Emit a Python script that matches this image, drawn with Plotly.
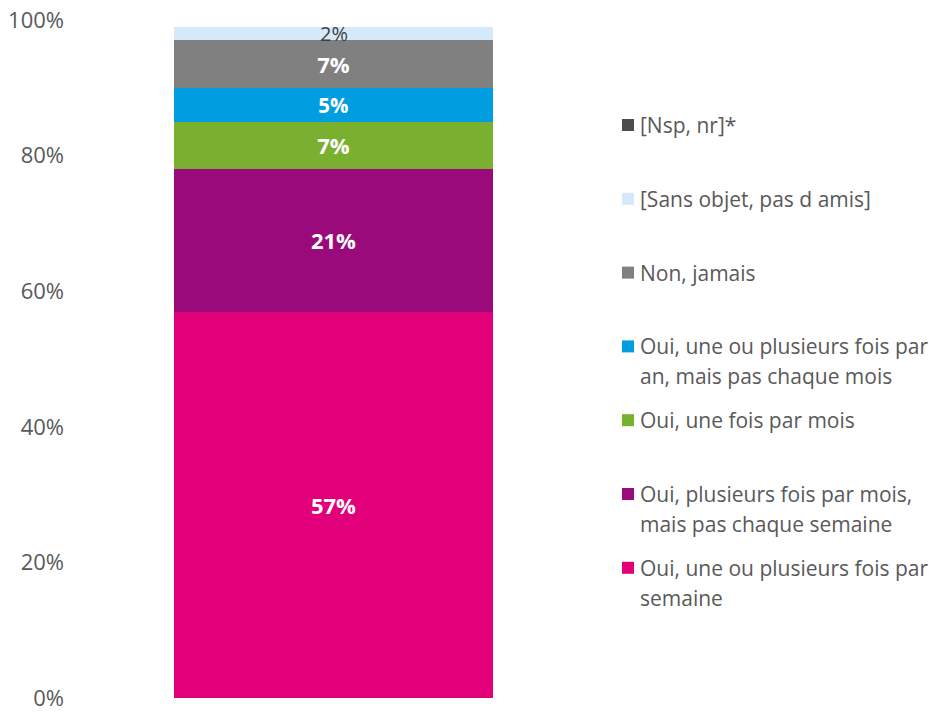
import plotly.graph_objects as go

# Survey answer categories, bottom of the stack first
categories = [
    "Oui, une ou plusieurs fois par<br>semaine",
    "Oui, plusieurs fois par mois,<br>mais pas chaque semaine",
    "Oui, une fois par mois",
    "Oui, une ou plusieurs fois par<br>an, mais pas chaque mois",
    "Non, jamais",
    "[Sans objet, pas d amis]",
    "[Nsp, nr]*",
]
shares = [57, 21, 7, 5, 7, 2, 0]  # percent of respondents
colors = ["#E2007A", "#9B0A7A", "#7AB030", "#009EE0", "#808080", "#D6E9FB", "#4D4D4D"]
y_ticks = [0, 20, 40, 60, 80, 100]
y_tick_labels = ["0%", "20%", "40%", "60%", "80%", "100%"]

FONT = "Open Sans"
TEXT_GRAY = "#595959"

W, H = 929, 713
M_L, M_R, M_T, M_B = 75, 337, 20, 15
plot_w = W - M_L - M_R
plot_h = H - M_T - M_B

fig = go.Figure()
for i, (cat, val, col) in enumerate(zip(categories, shares, colors)):
    light = i == 5
    fig.add_trace(go.Bar(
        x=[0], y=[val], width=0.617,
        name=cat,
        marker=dict(color=col, line=dict(width=0)),
        text=[f"{val}%"] if (val > 0 and not light) else None,
        textposition="inside",
        insidetextanchor="middle",
        textangle=0,
        textfont=dict(family=FONT, size=22, color="white", weight="bold"),
        showlegend=False,
        hoverinfo="name+y",
    ))

# small segment label, drawn centred on its segment and allowed to overflow
base = sum(shares[:5])
fig.add_annotation(
    x=0, y=base + shares[5] / 2, xref="x", yref="y",
    text=f"{shares[5]}%", showarrow=False,
    font=dict(family=FONT, size=20, color="#404040"),
)

# legend, top entry first, one square per category
leg_top_px = 125
leg_step_px = 73.8
line_px = 30
sq = 12
sq_x_px = 622
txt_x_px = 638


def px_to_paper_x(px):
    return (px - M_L) / plot_w


def px_to_paper_y(py):
    return (H - M_B - py) / plot_h


order = list(range(len(categories)))[::-1]
for k, i in enumerate(order):
    cy = leg_top_px + k * leg_step_px
    fig.add_shape(
        type="rect", xref="paper", yref="paper",
        x0=px_to_paper_x(sq_x_px), x1=px_to_paper_x(sq_x_px + sq),
        y0=px_to_paper_y(cy + sq / 2), y1=px_to_paper_y(cy - sq / 2),
        fillcolor=colors[i], line=dict(width=0),
    )
    for j, line in enumerate(categories[i].split("<br>")):
        fig.add_annotation(
            x=px_to_paper_x(txt_x_px), y=px_to_paper_y(cy + j * line_px),
            xref="paper", yref="paper", xanchor="left", yanchor="middle",
            text=line, showarrow=False, align="left",
            font=dict(family=FONT, size=21, color=TEXT_GRAY),
        )

fig.update_layout(
    width=W, height=H,
    margin=dict(l=M_L, r=M_R, t=M_T, b=M_B, autoexpand=False),
    barmode="stack",
    plot_bgcolor="white", paper_bgcolor="white",
    font=dict(family=FONT, color=TEXT_GRAY),
    xaxis=dict(range=[-0.5, 0.5], visible=False, fixedrange=True, automargin=False),
    yaxis=dict(
        range=[0, 100], tickvals=y_ticks, ticktext=y_tick_labels,
        showgrid=False, zeroline=False, showline=False,
        tickfont=dict(family=FONT, size=22, color=TEXT_GRAY),
        ticks="", ticklabelstandoff=10, automargin=False,
        ticklabeloverflow="allow",
    ),
)

fig.write_html("out.html")
